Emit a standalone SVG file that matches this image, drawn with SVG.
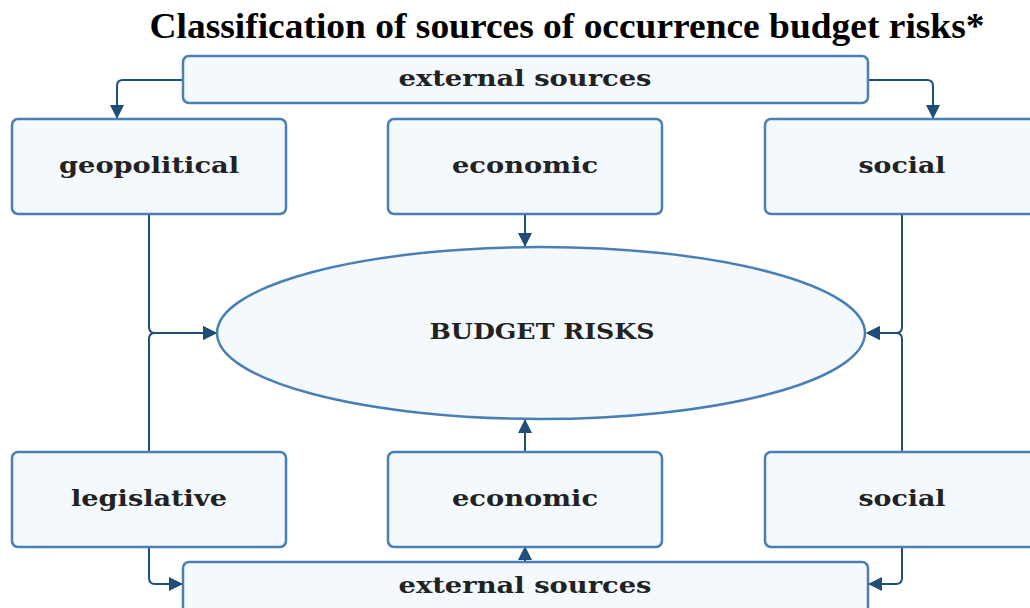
<svg xmlns="http://www.w3.org/2000/svg" width="1030" height="608" viewBox="0 0 1030 608">
<defs>
<style>
.box{fill:#f4f9fe;stroke:#4a7fb5;stroke-width:2.5}
.lbl{font-family:"DejaVu Serif","Liberation Serif",serif;font-weight:bold;font-size:22px;fill:#222;text-anchor:middle}
.con{fill:none;stroke:#1f4e79;stroke-width:2;marker-end:url(#ah)}
.title{font-family:"Liberation Serif","Times New Roman",serif;font-weight:bold;font-size:36px;fill:#000;text-anchor:middle}
</style>
<marker id="ah" viewBox="0 0 14 14" refX="13" refY="7" markerWidth="14" markerHeight="14" markerUnits="userSpaceOnUse" orient="auto">
<path d="M0,0 L14,7 L0,14 z" fill="#1f4e79"/>
</marker>
</defs>
<rect width="1030" height="608" fill="#fff"/>
<text class="title" x="567" y="38" textLength="835" lengthAdjust="spacingAndGlyphs">Classification of sources of occurrence budget risks*</text>
<g id="connectors">
<path class="con" d="M183,80 H123 Q117,80 117,86 V118"/>
<path class="con" d="M868,80 H927 Q933,80 933,86 V118"/>
<path class="con" d="M525,214 V246"/>
<path class="con" d="M149,214 V327 Q149,333 155,333 H216"/>
<path class="con" d="M149,452 V339 Q149,333 155,333 H216"/>
<path class="con" d="M902,214 V327 Q902,333 896,333 H867"/>
<path class="con" d="M902,452 V339 Q902,333 896,333 H867"/>
<path class="con" d="M525,452 V420"/>
<path class="con" d="M149,547 V578 Q149,584 155,584 H182"/>
<path class="con" d="M902,547 V578 Q902,584 896,584 H869"/>
<path class="con" d="M525,562 V547"/>
</g>
<g id="ext-top"><rect class="box" x="183" y="56" width="685" height="47" rx="6"/><text class="lbl" x="525" y="86" textLength="253" lengthAdjust="spacingAndGlyphs">external sources</text></g>
<g id="geopolitical"><rect class="box" x="12" y="119" width="274" height="95" rx="6"/><text class="lbl" x="149" y="173" textLength="180" lengthAdjust="spacingAndGlyphs">geopolitical</text></g>
<g id="economic-top"><rect class="box" x="388" y="119" width="274" height="95" rx="6"/><text class="lbl" x="525" y="173" textLength="146" lengthAdjust="spacingAndGlyphs">economic</text></g>
<g id="social-top"><rect class="box" x="765" y="119" width="274" height="95" rx="6"/><text class="lbl" x="902" y="173" textLength="87" lengthAdjust="spacingAndGlyphs">social</text></g>
<g id="budget-risks"><ellipse class="box" cx="541" cy="333" rx="324" ry="86"/><text class="lbl" x="542" y="339" textLength="225" lengthAdjust="spacingAndGlyphs">BUDGET RISKS</text></g>
<g id="legislative"><rect class="box" x="12" y="452" width="274" height="95" rx="6"/><text class="lbl" x="149" y="506" textLength="156" lengthAdjust="spacingAndGlyphs">legislative</text></g>
<g id="economic-bottom"><rect class="box" x="388" y="452" width="274" height="95" rx="6"/><text class="lbl" x="525" y="506" textLength="146" lengthAdjust="spacingAndGlyphs">economic</text></g>
<g id="social-bottom"><rect class="box" x="765" y="452" width="274" height="95" rx="6"/><text class="lbl" x="902" y="506" textLength="87" lengthAdjust="spacingAndGlyphs">social</text></g>
<g id="ext-bottom"><rect class="box" x="183" y="562" width="685" height="60" rx="6"/><text class="lbl" x="525" y="593" textLength="253" lengthAdjust="spacingAndGlyphs">external sources</text></g>
</svg>
